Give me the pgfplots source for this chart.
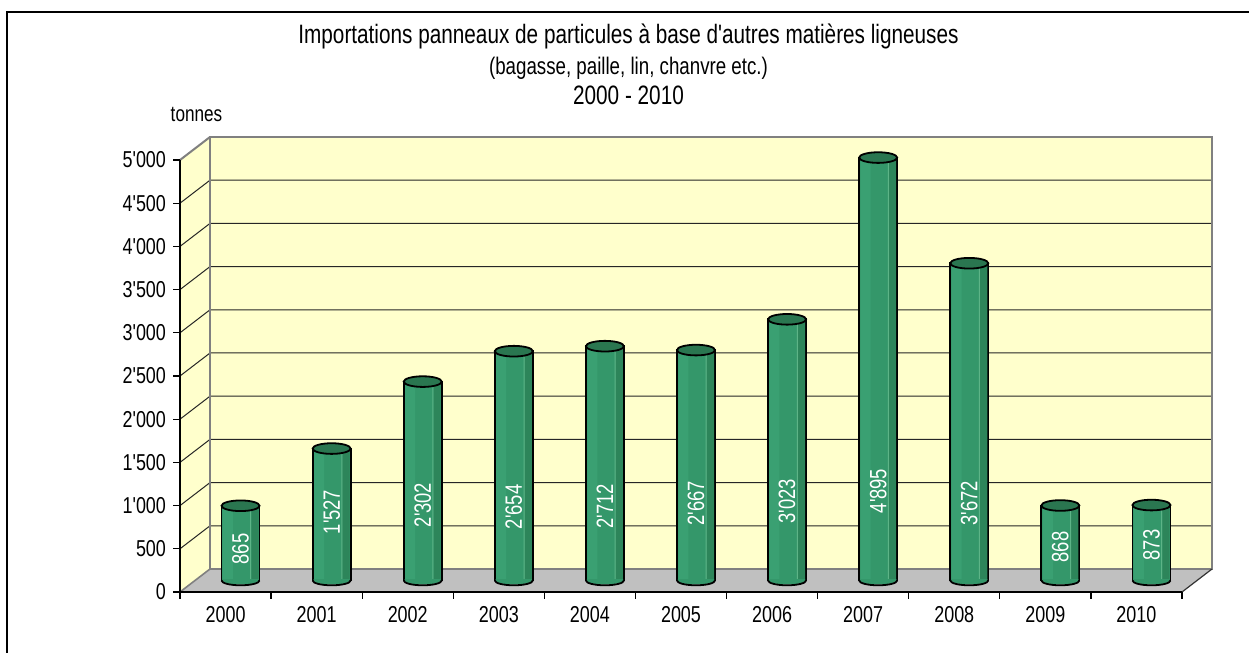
\documentclass[border=0pt]{standalone}
\usepackage{fontspec}
\setmainfont{Liberation Sans}[FakeStretch=0.78, Ligatures=TeXOff]
\usepackage{pgfplots}
\usepackage{pgfplotstable}
\pgfplotsset{compat=1.18}
\definecolor{wall}{HTML}{FFFFCC}
\definecolor{floorgray}{HTML}{C0C0C0}
\definecolor{edgegray}{HTML}{808080}
\definecolor{barMain}{HTML}{34976A}
\definecolor{barL}{HTML}{3AA072}
\definecolor{barR}{HTML}{2D855A}
\definecolor{barHi}{HTML}{5DB487}
\definecolor{barTop}{HTML}{2A7650}

\pgfdeclareplotmark{cylbase}{%
  \pgfpathmoveto{\pgfqpoint{-9.05pt}{0.7pt}}%
  \pgfpathlineto{\pgfqpoint{-9.05pt}{0pt}}%
  \pgfpatharc{180}{360}{9.05pt and 2.0pt}%
  \pgfpathlineto{\pgfqpoint{9.05pt}{0.7pt}}%
  \pgfpathclose
  \pgfsetfillcolor{barMain}\pgfusepath{fill}%
  \pgfpathmoveto{\pgfqpoint{-9.5pt}{0pt}}%
  \pgfpatharc{180}{360}{9.5pt and 2.4pt}%
  \pgfsetstrokecolor{black}\pgfsetlinewidth{0.9pt}\pgfusepath{stroke}%
}

\pgfplotstableread{
year val lab
2000 865 498
2001 1527 926
2002 2302 1007
2003 2654 984
2004 2712 995
2005 2667 1030
2006 3023 1053
2007 4895 1169
2008 3672 1030
2009 868 521
2010 873 544
}\datatable

\begin{document}
\begin{tikzpicture}
\fill[white] (-90pt,-30.5pt) rectangle (534.5pt,296pt);
\begin{axis}[
  at={(0,0)}, anchor=south west,
  scale only axis, width=501pt, height=216pt,
  xmin=1999.5, xmax=2010.5, ymin=0, ymax=5000,
  clip=false, axis on top,
  axis lines*=left,
  axis line style={black, line width=0.6pt, -},
  xtick={1999.5,2000.5,...,2010.5},
  x tick label as interval,
  xticklabels={2000,2001,2002,2003,2004,2005,2006,2007,2008,2009,2010},
  ytick={0,500,...,5000},
  tick align=outside,
  major tick length=3.5pt,
  tick style={black, line width=0.6pt},
  tick label style={font=\fontsize{11.5}{13}\selectfont},
  /pgf/number format/.cd, 1000 sep={'}, assume math mode=true, /pgfplots/.cd,
  scaled y ticks=false,
]
% side wall
\fill[wall] (axis cs:1999.5,0) -- ++(15pt,11.5pt) -- ++(0pt,216pt) -- (axis cs:1999.5,5000) -- cycle;
% back wall
\fill[wall] (axis cs:1999.5,0) ++(15pt,11.5pt) rectangle ++(501pt,216pt);
% floor
\fill[floorgray] (axis cs:1999.5,0) -- (axis cs:2010.5,0) -- ++(15pt,11.5pt) -- ++(-501pt,0pt) -- cycle;
% grid lines
\pgfplotsinvokeforeach{500,1000,...,4500}{
  \draw[black!85, line width=0.5pt] (axis cs:1999.5,#1) -- ++(15pt,11.5pt) -- ++(501pt,0pt);
}
% edges
\draw[edgegray, line width=1pt] (axis cs:1999.5,0) ++(15pt,11.5pt) -- ++(501pt,0pt) -- ++(0pt,216pt) -- ++(-501pt,0pt) -- cycle;
\draw[edgegray, line width=1pt] (axis cs:1999.5,5000) -- ++(15pt,11.5pt);
\draw[edgegray, line width=0.8pt] (axis cs:1999.5,0) -- ++(15pt,11.5pt);
\draw[black!80, line width=0.6pt] (axis cs:2010.5,0) -- ++(15pt,11.5pt);

% bars
\addplot[ybar, bar width=19pt, bar shift=0pt, xshift=7.5pt, yshift=5.75pt, draw=black, line width=0.9pt,
  fill=barMain]
  table[x=year, y=val] {\datatable};
% shading strips
\addplot[ybar, bar width=5pt, bar shift=-6.3pt, xshift=7.5pt, yshift=5.75pt, draw=none, fill=barL]
  table[x=year, y=val] {\datatable};
\addplot[ybar, bar width=3.6pt, bar shift=7.2pt, xshift=7.5pt, yshift=5.75pt, draw=none, fill=barR]
  table[x=year, y=val] {\datatable};
\addplot[ybar, bar width=0.5pt, bar shift=5.1pt, xshift=7.5pt, yshift=5.75pt, draw=none, fill=barHi]
  table[x=year, y=val] {\datatable};
% rounded base
\addplot[only marks, mark=cylbase, xshift=7.5pt, yshift=5.75pt]
  table[x=year, y expr=0] {\datatable};
% bar tops
\addplot[only marks, mark=*, mark size=9.5pt, xshift=7.5pt, yshift=5.75pt,
  mark options={draw=black, line width=0.9pt, fill=barTop, yscale=0.28}]
  table[x=year, y=val] {\datatable};
% value labels
\addplot[draw=none, mark=none, nodes near coords, point meta=explicit,
  nodes near coords style={rotate=90, anchor=center, text=white, font=\fontsize{11.8}{13}\selectfont}]
  table[x expr=\thisrow{year}+0.1646, y=lab, meta=val] {\datatable};

% titles
\node[font=\fontsize{13.3}{15}\selectfont, anchor=base, xshift=224.25pt, yshift=274pt] at (rel axis cs:0,0) {Importations panneaux de particules à base d'autres matières ligneuses};
\node[font=\fontsize{12}{14}\selectfont, anchor=base, xshift=224.25pt, yshift=258.5pt] at (rel axis cs:0,0) {(bagasse, paille, lin, chanvre etc.)};
\node[font=\fontsize{13.3}{15}\selectfont, anchor=base, xshift=224.25pt, yshift=243.5pt] at (rel axis cs:0,0) {2000 - 2010};
\node[font=\fontsize{11}{13}\selectfont, anchor=base, xshift=8.25pt, yshift=235pt] at (rel axis cs:0,0) {tonnes};
\end{axis}
\draw[black, line width=1pt] (-86.5pt,-40pt) -- (-86.5pt,290pt) -- (600pt,290pt);
\pgfresetboundingbox
\path[use as bounding box] (-90pt,-30.5pt) rectangle (534.5pt,296pt);
\end{tikzpicture}
\end{document}
